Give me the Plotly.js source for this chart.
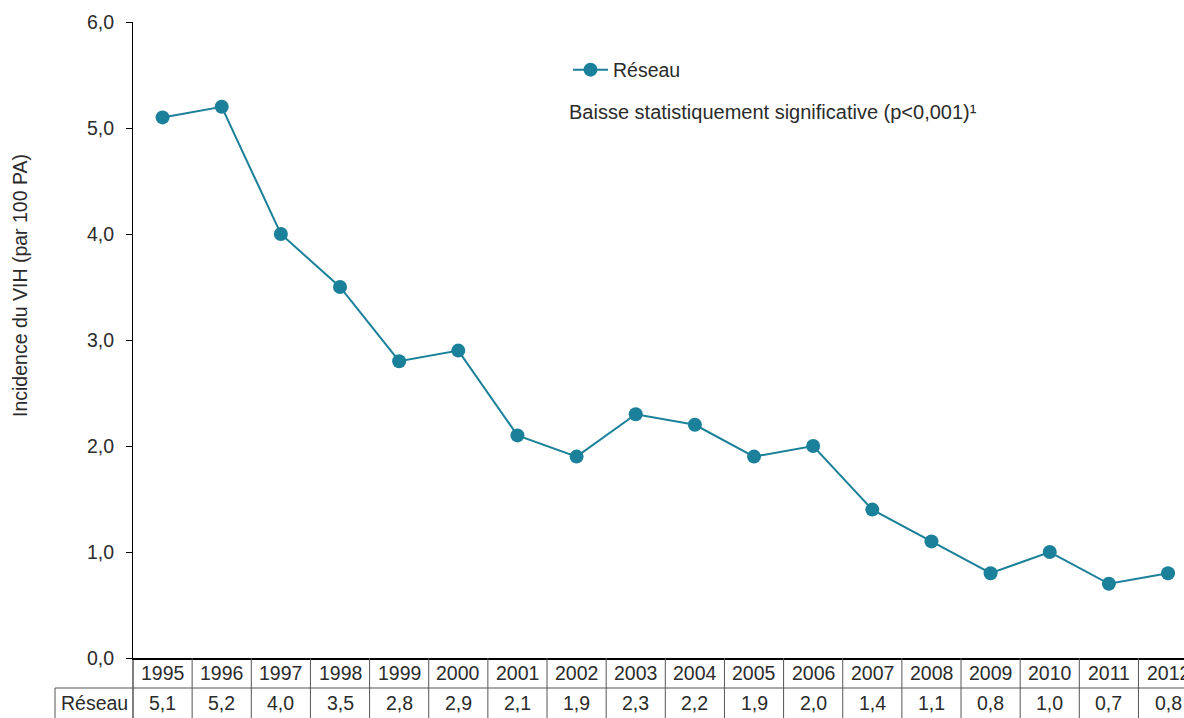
<!DOCTYPE html>
<html><head><meta charset="utf-8">
<script src="https://cdn.plot.ly/plotly-3.0.1.min.js"></script>
<style>html,body{margin:0;padding:0;background:#fff}#chart{width:1184px;height:718px}</style>
</head><body><div id="chart"></div>
<script>
const years = ["1995","1996","1997","1998","1999","2000","2001","2002","2003","2004","2005","2006","2007","2008","2009","2010","2011","2012"];
const reseau = [5.1,5.2,4.0,3.5,2.8,2.9,2.1,1.9,2.3,2.2,1.9,2.0,1.4,1.1,0.8,1.0,0.7,0.8];
const seriesName = "Réseau";
const yTitle = "Incidence du VIH (par 100 PA)";
const note = "Baisse statistiquement significative (p<0,001)¹";

const color = "#1b8099";
const font = "Liberation Sans, Arial, sans-serif";
const fs = 19.5;
const txt = "#2b2b2b";
const gridCol = "#555";
const W = 1051, H = 636; // plot size px
const rowY = px => -px / H; // paper coord for px below axis
const colX = px => (px - 133) / W;

const fmt = v => v.toFixed(1).replace(".", ",");
const idx = years.map((_, i) => i);

const shapes = [];
const annotations = [];
// vertical extension of y axis line
shapes.push({type:"line", xref:"paper", yref:"paper", x0:0, x1:0, y0:0, y1:rowY(62), line:{color:"#000", width:1}});
// horizontal line between rows
shapes.push({type:"line", xref:"paper", yref:"paper", x0:colX(55), x1:1, y0:rowY(30), y1:rowY(30), line:{color:gridCol, width:1}});
// Réseau label cell left border
shapes.push({type:"line", xref:"paper", yref:"paper", x0:colX(55), x1:colX(55), y0:rowY(30), y1:rowY(62), line:{color:gridCol, width:1}});
idx.forEach(i => {
  shapes.push({type:"line", xref:"x", yref:"paper", x0:i+0.5, x1:i+0.5, y0:0, y1:rowY(62), line:{color:gridCol, width:1}});
  annotations.push({xref:"x", yref:"paper", x:i, y:rowY(15), text:years[i], showarrow:false, font:{family:font, size:fs, color:txt}, yanchor:"middle"});
  annotations.push({xref:"x", yref:"paper", x:i, y:rowY(45), text:fmt(reseau[i]), showarrow:false, font:{family:font, size:fs, color:txt}, yanchor:"middle"});
});
annotations.push({xref:"paper", yref:"paper", x:colX(94), xanchor:"center", y:rowY(45), text:seriesName, showarrow:false, font:{family:font, size:fs, color:txt}, yanchor:"middle"});
annotations.push({xref:"paper", yref:"paper", x:colX(20), xanchor:"center", y:(658-286)/H, yanchor:"middle", text:yTitle, textangle:-90, showarrow:false, font:{family:font, size:fs, color:txt}});
annotations.push({xref:"paper", yref:"paper", x:colX(567), xanchor:"left", y:(658-112)/H, yanchor:"middle", text:note, showarrow:false, font:{family:font, size:20, color:txt}});

const trace = {
  x: idx, y: reseau, type:"scatter", mode:"lines+markers", name:seriesName,
  line:{color:color, width:2}, marker:{color:color, size:14}, cliponaxis:false
};

const layout = {
  width:1184, height:718,
  margin:{l:133, r:0, t:22, b:60},
  paper_bgcolor:"#fff", plot_bgcolor:"#fff",
  separators:", ",
  font:{family:font, size:fs, color:txt},
  showlegend:true,
  legend:{x:colX(568), y:(658-70)/H, xanchor:"left", yanchor:"middle", itemwidth:35, font:{family:font, size:fs, color:txt}, bgcolor:"rgba(0,0,0,0)"},
  xaxis:{range:[-0.5, 17.27], showticklabels:false, showgrid:false, zeroline:false, showline:true, linecolor:"#000", linewidth:1.5, ticks:"", fixedrange:true},
  yaxis:{range:[0,6], dtick:1, tickformat:".1f", showgrid:false, zeroline:false, showline:true, linecolor:"#000", linewidth:1, ticks:"outside", ticklen:6, tickcolor:"#000", ticklabelstandoff:8, tickfont:{family:font, size:fs, color:txt}, fixedrange:true},
  shapes:shapes, annotations:annotations
};
Plotly.newPlot("chart", [trace], layout, {displayModeBar:false, staticPlot:true});
</script></body></html>
